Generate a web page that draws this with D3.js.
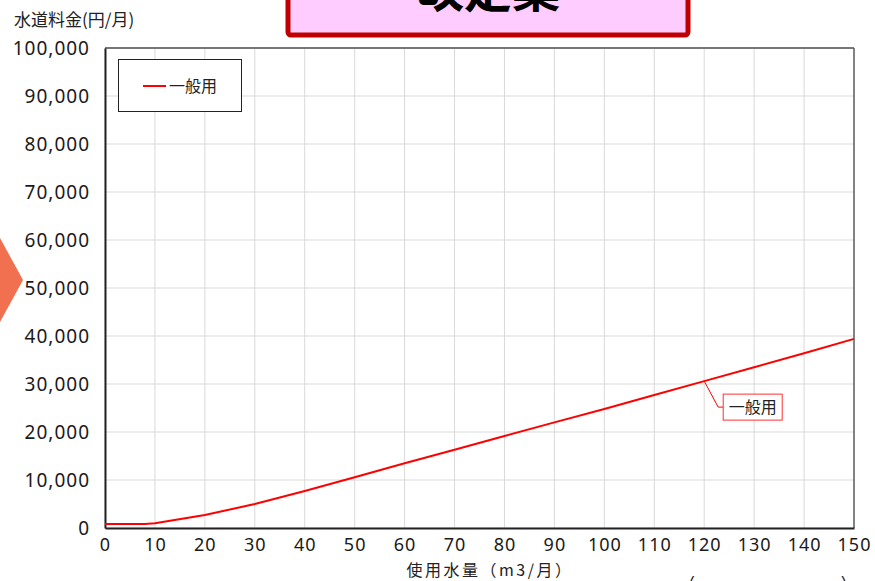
<!DOCTYPE html>
<html>
<head>
<meta charset="utf-8">
<script src="https://cdn.jsdelivr.net/npm/d3@7"></script>
<style>
  html, body { margin: 0; padding: 0; background: #fff; }
  svg { display: block; }
  text { font-family: "Noto Sans", "Noto Sans CJK JP", sans-serif; }
</style>
</head>
<body>
<svg id="chart" width="875" height="581"></svg>
<script>
// ---- data ----
const usage = [0, 8, 10, 20, 30, 40, 50, 60, 70, 80, 90, 100, 110, 120, 130, 140, 150];
const charge = [830, 830, 1000, 2700, 5000, 7700, 10560, 13480, 16300, 19170, 22000, 24800, 27700, 30600, 33500, 36400, 39400];
const seriesName = "一般用";
const xTicks = [0, 10, 20, 30, 40, 50, 60, 70, 80, 90, 100, 110, 120, 130, 140, 150];
const yTicks = [0, 10000, 20000, 30000, 40000, 50000, 60000, 70000, 80000, 90000, 100000];
const yTitle = "水道料金(円/月)";
const xTitle = "使用水量（m3/月）";
const banner = "改定案";
const labelAt = 120;

const svg = d3.select("#chart");
const m = { left: 105, right: 854, top: 48, bottom: 528 };
const x = d3.scaleLinear().domain([0, 150]).range([m.left, m.right]);
const y = d3.scaleLinear().domain([0, 100000]).range([m.bottom, m.top]);

// banner box
svg.append("rect").attr("x", 288).attr("y", -20).attr("width", 400).attr("height", 55)
  .attr("rx", 3).attr("fill", "#ffccff").attr("stroke", "#c00000").attr("stroke-width", 5);
svg.append("text").attr("x", 488).attr("y", 7).attr("text-anchor", "middle")
  .attr("font-size", 48).attr("font-weight", "bold").attr("fill", "#000")
  .style("font-family", "'Noto Sans CJK JP', sans-serif").text(banner);

// orange arrow
svg.append("path").attr("d", "M0,238 L23,280 L0,322 Z").attr("fill", "#f07050");

// grid
const g = svg.append("g");
g.selectAll(".vg").data(xTicks).enter().append("line")
  .attr("x1", d => x(d)).attr("x2", d => x(d)).attr("y1", m.top).attr("y2", m.bottom)
  .attr("stroke", "#d9d9d9").attr("stroke-width", 1);
g.selectAll(".hg").data(yTicks).enter().append("line")
  .attr("x1", m.left).attr("x2", m.right).attr("y1", d => y(d)).attr("y2", d => y(d))
  .attr("stroke", "#d9d9d9").attr("stroke-width", 1);

// frame
svg.append("line").attr("x1", m.left).attr("x2", m.right).attr("y1", m.top).attr("y2", m.top)
  .attr("stroke", "#505050").attr("stroke-width", 1.5);
svg.append("line").attr("x1", m.right).attr("x2", m.right).attr("y1", m.top).attr("y2", m.bottom)
  .attr("stroke", "#606060").attr("stroke-width", 1.5);

// axes
const xAxis = d3.axisBottom(x).tickValues(xTicks).tickSize(0).tickPadding(10).tickFormat(d3.format("d"));
const yAxis = d3.axisLeft(y).tickValues(yTicks).tickSize(0).tickPadding(15).tickFormat(d3.format(","));
const gx = svg.append("g").attr("transform", `translate(0,${m.bottom})`).call(xAxis);
const gy = svg.append("g").attr("transform", `translate(${m.left},0)`).call(yAxis);
[gx, gy].forEach(a => {
  a.select(".domain").attr("stroke", "#222").attr("stroke-width", 2);
  a.selectAll("text").attr("fill", "#1a1a1a")
    .attr("letter-spacing", 1)
    .style("font-family", "'Noto Sans', sans-serif");
});
gy.selectAll("text").attr("font-size", 19).attr("dy", "0.36em");
gx.selectAll("text").attr("font-size", 18).attr("dy", "0.71em");

// line
const line = d3.line().x((d, i) => x(usage[i])).y(d => y(d));
svg.append("path").datum(charge).attr("d", line)
  .attr("fill", "none").attr("stroke", "#ff0000").attr("stroke-width", 2);

// data label with leader
const li = usage.indexOf(labelAt);
const px = x(usage[li]), py = y(charge[li]);
svg.append("path").attr("d", `M${px},${py} L${px + 14},${py + 26} L${px + 19},${py + 26}`)
  .attr("fill", "none").attr("stroke", "#ff0000").attr("stroke-width", 1);
svg.append("rect").attr("x", px + 19).attr("y", py + 13).attr("width", 59).attr("height", 26)
  .attr("fill", "#fff").attr("stroke", "#ff3030").attr("stroke-width", 1);
svg.append("text").attr("x", px + 48.5).attr("y", py + 26).attr("dy", "0.36em")
  .attr("text-anchor", "middle").attr("font-size", 16).attr("fill", "#222")
  .style("font-family", "'Noto Sans CJK JP', sans-serif").text(seriesName);

// legend
svg.append("rect").attr("x", 118.5).attr("y", 59.5).attr("width", 123).attr("height", 52)
  .attr("fill", "#fff").attr("stroke", "#222").attr("stroke-width", 1);
svg.append("line").attr("x1", 143).attr("x2", 166).attr("y1", 86).attr("y2", 86)
  .attr("stroke", "#ff0000").attr("stroke-width", 2);
svg.append("text").attr("x", 169).attr("y", 86).attr("dy", "0.36em")
  .attr("font-size", 16).attr("fill", "#222")
  .style("font-family", "'Noto Sans CJK JP', sans-serif").text(seriesName);

// titles
svg.append("text").attr("x", 14).attr("y", 20).attr("dy", "0.36em")
  .attr("font-size", 17).attr("fill", "#222")
  .style("font-family", "'Noto Sans CJK JP', sans-serif").text(yTitle);
svg.append("text").attr("x", 490).attr("y", 570).attr("dy", "0.36em").attr("text-anchor", "middle")
  .attr("font-size", 16).attr("fill", "#222").attr("letter-spacing", 2.5)
  .style("font-family", "'Noto Sans CJK JP', sans-serif").text(xTitle);

// partial brackets at bottom right
svg.append("text").attr("x", 685).attr("y", 600).attr("font-size", 32).attr("fill", "#222")
  .style("font-family", "'DejaVu Sans', sans-serif").attr("font-weight", 200).text("(");
svg.append("text").attr("x", 838).attr("y", 600).attr("font-size", 32).attr("fill", "#222")
  .style("font-family", "'DejaVu Sans', sans-serif").attr("font-weight", 200).text(")");
</script>
</body>
</html>
